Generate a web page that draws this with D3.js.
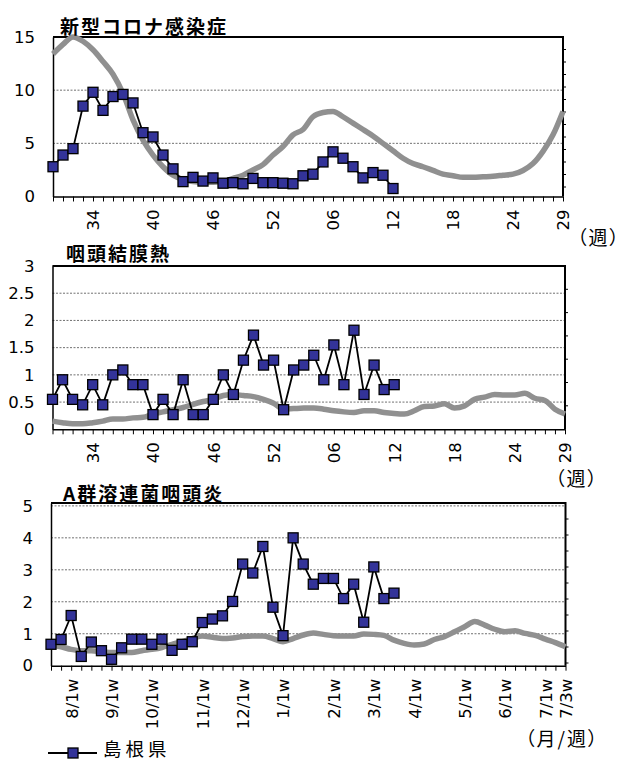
<!DOCTYPE html>
<html>
<head>
<meta charset="utf-8">
<script src="https://cdn.jsdelivr.net/npm/d3@7"></script>
<style>
  body { margin: 0; background: #fff; }
  svg text { font-family: "DejaVu Sans", "Liberation Sans", sans-serif; fill: #000; }
  svg text.jp { font-family: "Noto Sans CJK JP", sans-serif; }
  svg text.unit { font-feature-settings: "palt"; }
</style>
</head>
<body>
<div id="chart"></div>
<script>
// categories: report weeks (week 30 .. 52, then 01 .. 29)
const weeks = ["30","31","32","33","34","35","36","37","38","39","40","41","42","43","44","45","46","47","48","49","50","51","52",
  "01","02","03","04","05","06","07","08","09","10","11","12","13","14","15","16","17","18","19","20","21","22","23","24","25","26","27","28","29"];

// tick labels
const weekTickWeeks = ["34","40","46","52","06","12","18","24","29"];
const weekTickLabels = ["34","40","46","52","06","12","18","24","29"];
const monthTickWeeks = ["32","36","40","45","49","01","06","10","14","19","23","27","29"];
const monthTickLabels = ["8/1w","9/1w","10/1w","11/1w","12/1w","1/1w","2/1w","3/1w","4/1w","5/1w","6/1w","7/1w","7/3w"];

// 新型コロナ感染症
const covidShimane = [2.8, 3.9, 4.5, 8.5, 9.8, 8.1, 9.4, 9.6, 8.8, 6.0, 5.6, 3.9, 2.6, 1.4, 1.8, 1.45, 1.75, 1.25, 1.3, 1.2,
  1.7, 1.3, 1.3, 1.25, 1.2, 1.95, 2.1, 3.25, 4.2, 3.6, 2.8, 1.75, 2.25, 2.0, 0.75];
const covidNational = [13.4, 14.3, 15.0, 14.6, 13.8, 12.7, 11.5, 9.7, 7.2, 5.3, 3.9, 2.8, 2.0, 1.6, 1.4, 1.35, 1.35, 1.4, 1.7, 2.0,
  2.5, 3.0, 3.9, 4.7, 5.8, 6.3, 7.5, 7.9, 8.0, 7.5, 6.9, 6.3, 5.7, 5.0, 4.3, 3.6, 3.1, 2.8, 2.45, 2.1,
  1.95, 1.8, 1.8, 1.85, 1.9, 2.0, 2.1, 2.45, 3.1, 4.25, 5.8, 8.0];

// 咽頭結膜熱
const pcfShimane = [0.55, 0.91, 0.55, 0.45, 0.82, 0.45, 1.0, 1.09, 0.82, 0.82, 0.27, 0.55, 0.27, 0.91, 0.27, 0.27, 0.55, 1.0, 0.64, 1.27,
  1.73, 1.18, 1.27, 0.36, 1.09, 1.18, 1.36, 0.91, 1.55, 0.82, 1.82, 0.64, 1.18, 0.73, 0.82];
const pcfNational = [0.15, 0.12, 0.10, 0.10, 0.12, 0.15, 0.19, 0.19, 0.21, 0.22, 0.28, 0.32, 0.36, 0.40, 0.46, 0.51, 0.55, 0.62, 0.64, 0.62,
  0.60, 0.55, 0.48, 0.37, 0.38, 0.39, 0.39, 0.37, 0.34, 0.32, 0.31, 0.34, 0.34, 0.31, 0.29, 0.28, 0.34, 0.42, 0.43, 0.47,
  0.39, 0.43, 0.55, 0.59, 0.64, 0.63, 0.63, 0.66, 0.57, 0.53, 0.37, 0.28];

// A群溶連菌咽頭炎
const gasShimane = [0.67, 0.82, 1.57, 0.29, 0.74, 0.47, 0.2, 0.56, 0.83, 0.83, 0.67, 0.83, 0.48, 0.67, 0.75, 1.35, 1.46, 1.56, 2.01, 3.18,
  2.9, 3.73, 1.83, 0.94, 4.0, 3.18, 2.55, 2.73, 2.73, 2.1, 2.55, 1.36, 3.09, 2.1, 2.27];
const gasNational = [0.65, 0.59, 0.51, 0.47, 0.47, 0.44, 0.41, 0.41, 0.41, 0.47, 0.51, 0.57, 0.67, 0.75, 0.85, 0.93, 0.89, 0.85, 0.87, 0.91,
  0.93, 0.93, 0.85, 0.75, 0.85, 0.96, 1.02, 0.98, 0.94, 0.93, 0.93, 0.99, 0.98, 0.95, 0.80, 0.70, 0.65, 0.68, 0.82, 0.91,
  1.06, 1.22, 1.38, 1.27, 1.14, 1.06, 1.09, 1.01, 0.95, 0.83, 0.72, 0.59];

const legendLabel = "島根県";

const width = 622, height = 760;
const svg = d3.select("#chart").append("svg")
  .attr("width", width)
  .attr("height", height);

const panels = [
  { title: "新型コロナ感染症", titleX: 60, titleY: 25, left: 53, right: 563, top: 37, bottom: 196.5,
    yMax: 15, yTicks: [0, 5, 10, 15], prefecture: covidShimane, national: covidNational,
    tickWeeks: weekTickWeeks, tickLabels: weekTickLabels, unit: "（週）", unitX: 577, unitY: 236, rightStep: 12.5 },
  { title: "咽頭結膜熱", titleX: 66, titleY: 252, left: 52.5, right: 565, top: 266, bottom: 429.3,
    yMax: 3, yTicks: [0, 0.5, 1, 1.5, 2, 2.5, 3], prefecture: pcfShimane, national: pcfNational,
    tickWeeks: weekTickWeeks, tickLabels: weekTickLabels, unit: "（週）", unitX: 555, unitY: 477, rightStep: 23.3 },
  { title: "A群溶連菌咽頭炎", titleX: 63, titleY: 492, left: 51, right: 565.5, top: 503, bottom: 665.7,
    yMax: 5.09, yTicks: [0, 1, 2, 3, 4, 5], prefecture: gasShimane, national: gasNational,
    tickWeeks: monthTickWeeks, tickLabels: monthTickLabels, unit: "（月/週）", unitX: 525, unitY: 737, rightStep: 16 }
];

panels.forEach(drawPanel);

function drawPanel(p) {
  const g = svg.append("g");

  const x = d3.scalePoint().domain(weeks).range([p.left, p.right]);
  const y = d3.scaleLinear().domain([0, p.yMax]).range([p.bottom, p.top]);

  // dashed gridlines
  g.append("g")
    .selectAll("line")
    .data(p.yTicks.filter(d => d > 0))
    .join("line")
    .attr("x1", p.left).attr("x2", p.right)
    .attr("y1", d => y(d)).attr("y2", d => y(d))
    .attr("stroke", "#707070")
    .attr("stroke-width", 1)
    .attr("stroke-dasharray", "2,1.5");

  // frame: top and right
  g.append("path")
    .attr("d", `M${p.left},${p.top}H${p.right}V${p.bottom}`)
    .attr("fill", "none")
    .attr("stroke", "#000")
    .attr("stroke-width", 2);

  // small ticks on the right side
  const rightTicks = d3.range(p.top + p.rightStep, p.bottom - 2, p.rightStep);
  g.append("g")
    .selectAll("line")
    .data(rightTicks)
    .join("line")
    .attr("x1", p.right).attr("x2", p.right + 3)
    .attr("y1", d => d).attr("y2", d => d)
    .attr("stroke", "#000");

  // y axis
  g.append("g")
    .attr("transform", `translate(${p.left},0)`)
    .call(d3.axisLeft(y).tickValues(p.yTicks).tickSize(0).tickSizeOuter(0).tickPadding(18).tickFormat(d => d))
    .call(a => a.select(".domain").attr("stroke", "#000").attr("stroke-width", 1.5))
    .call(a => a.selectAll("text").attr("font-size", 16.5).attr("fill", "#000"));

  // x axis
  const xAxis = d3.axisBottom(x)
    .tickValues(weeks)
    .tickSize(5)
    .tickSizeOuter(0)
    .tickFormat(d => {
      const i = p.tickWeeks.indexOf(d);
      return i < 0 ? "" : p.tickLabels[i];
    });

  g.append("g")
    .attr("transform", `translate(0,${p.bottom})`)
    .call(xAxis)
    .call(a => a.select(".domain").attr("stroke", "#000").attr("stroke-width", 1.5))
    .call(a => a.selectAll(".tick line").attr("stroke", "#000"))
    .call(a => a.selectAll("text")
      .attr("transform", "rotate(-90)")
      .attr("x", -13)
      .attr("y", 0)
      .attr("dy", "0.36em")
      .attr("text-anchor", "end")
      .attr("font-size", 16.5)
      .attr("fill", "#000"));

  // national line (smoothed, gray)
  const smooth = d3.line()
    .x((d, i) => x(weeks[i]))
    .y(d => y(d))
    .curve(d3.curveMonotoneX);

  g.append("path")
    .datum(p.national)
    .attr("d", smooth)
    .attr("fill", "none")
    .attr("stroke", "#909090")
    .attr("stroke-width", 5.5)
    .attr("stroke-linejoin", "round");

  // prefecture line + square markers
  const line = d3.line()
    .x((d, i) => x(weeks[i]))
    .y(d => y(d));

  g.append("path")
    .datum(p.prefecture)
    .attr("d", line)
    .attr("fill", "none")
    .attr("stroke", "#000")
    .attr("stroke-width", 1.8);

  g.append("g")
    .selectAll("rect")
    .data(p.prefecture)
    .join("rect")
    .attr("x", (d, i) => x(weeks[i]) - 5)
    .attr("y", d => y(d) - 5)
    .attr("width", 10)
    .attr("height", 10)
    .attr("fill", "#333399")
    .attr("stroke", "#000")
    .attr("stroke-width", 1.3);

  // title
  g.append("text")
    .attr("class", "jp")
    .attr("x", p.titleX)
    .attr("y", p.titleY)
    .attr("dominant-baseline", "central")
    .attr("font-size", 19)
    .attr("font-weight", "bold")
    .attr("letter-spacing", 2)
    .text(p.title);

  // unit label
  g.append("text")
    .attr("class", "jp unit")
    .attr("x", p.unitX)
    .attr("y", p.unitY)
    .attr("dominant-baseline", "central")
    .attr("font-size", 19)
    .attr("letter-spacing", 2)
    .text(p.unit);
}

// legend
const legend = svg.append("g").attr("transform", "translate(48,753)");
legend.append("line")
  .attr("x1", 0).attr("x2", 49)
  .attr("stroke", "#000").attr("stroke-width", 1.8);
legend.append("rect")
  .attr("x", 20).attr("y", -5).attr("width", 10).attr("height", 10)
  .attr("fill", "#333399").attr("stroke", "#000").attr("stroke-width", 1.3);
legend.append("text")
  .attr("class", "jp")
  .attr("x", 55)
  .attr("y", -5)
  .attr("dominant-baseline", "central")
  .attr("font-size", 18.5)
  .attr("letter-spacing", 4)
  .text(legendLabel);
</script>
</body>
</html>
